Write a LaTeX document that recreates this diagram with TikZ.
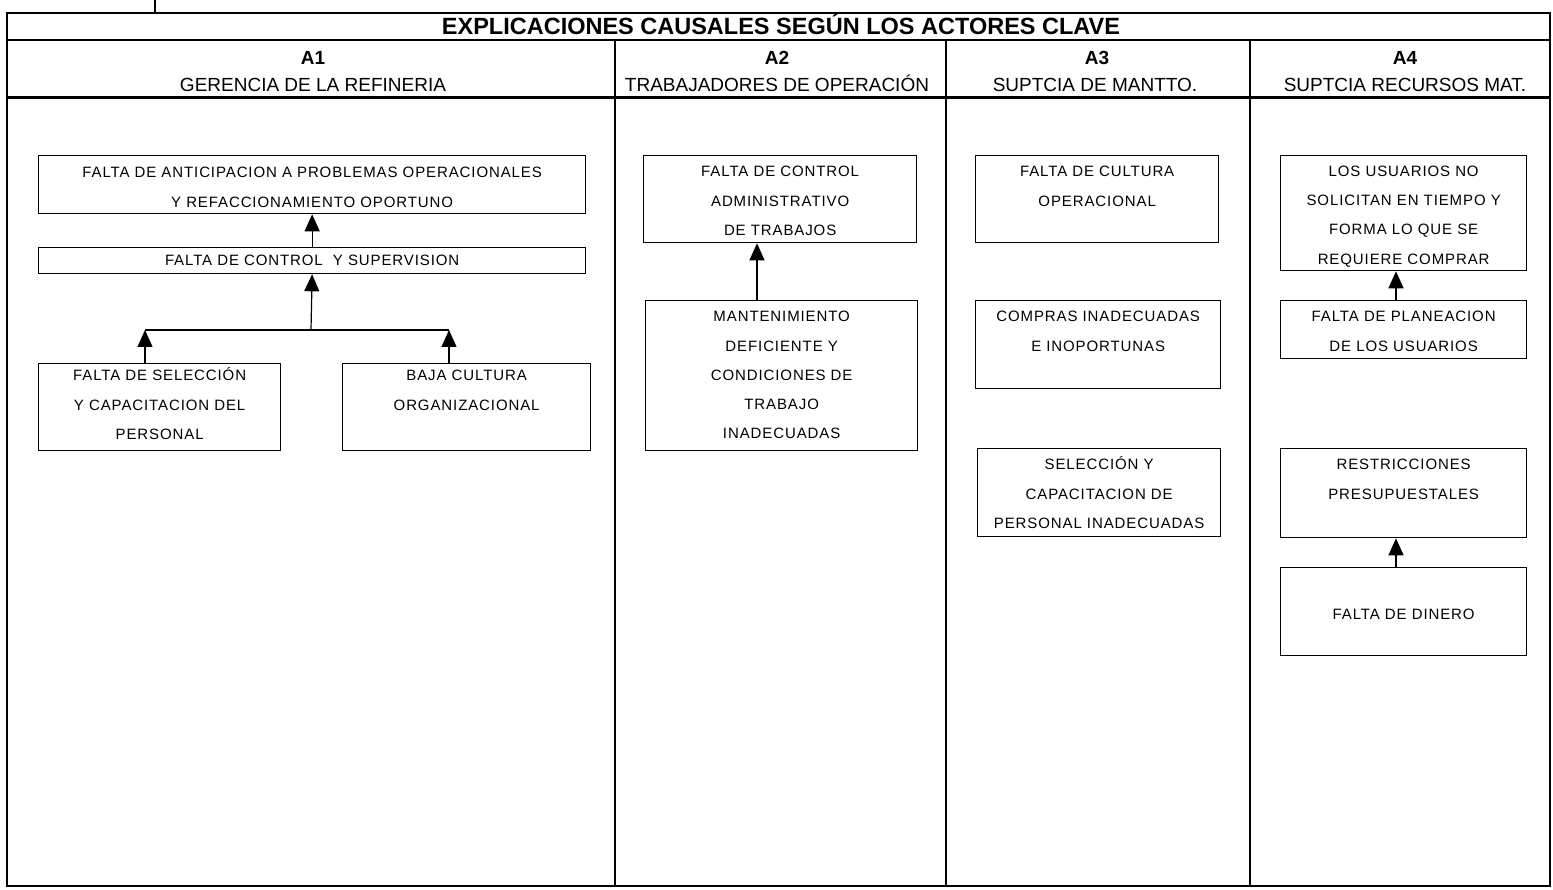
\documentclass[tikz,border=0pt]{standalone}
\usepackage{fontspec}
\setmainfont{Liberation Sans}
\newfontfamily\boxfont[LetterSpace=6]{Liberation Sans}
\usetikzlibrary{arrows.meta,calc}
\newcommand{\fl}{\vphantom{ÓÁ}}
\begin{document}
\begin{tikzpicture}[x=1pt,y=-1pt,
  frame/.style={line width=2.4pt},
  cbox/.style={draw, line width=1.3pt, inner sep=0pt, anchor=north west},
  ctext/.style={font=\boxfont\fontsize{15}{29.3}\selectfont, align=center, inner sep=0pt, anchor=north},
  cause/.style={line width=1.2pt, -{Triangle[width=15pt,length=17pt]}},
  plain/.style={line width=1.2pt},
  titlefont/.style={font=\bfseries\fontsize{23.5}{23.5}\selectfont, anchor=base, inner sep=0pt},
  afont/.style={font=\bfseries\fontsize{19}{19}\selectfont, anchor=base, inner sep=0pt},
  hfont/.style={font=\fontsize{19}{19}\selectfont, anchor=base, inner sep=0pt},
]
\useasboundingbox (0,0) rectangle (1553,890);

% frame
\draw[frame] (7,13) rectangle (1550,886);
\draw[line width=1.2pt] (155,0) -- (155,13);
\draw[frame] (7,40) -- (1550,40);
\draw[line width=3pt] (7,98) -- (1550,98);
\draw[frame] (615,40) -- (615,886);
\draw[frame] (946,40) -- (946,886);
\draw[frame] (1250,40) -- (1250,886);

% title and headers
\node[titlefont] (title) at (781,35) {EXPLICACIONES CAUSALES SEGÚN LOS ACTORES CLAVE};
\node[afont] (a1) at (313,65) {A1};
\node[hfont] (h1) at (313,92) {GERENCIA DE LA REFINERIA};
\node[afont] (a2) at (777,65) {A2};
\node[hfont] (h2) at (777,92) {TRABAJADORES DE OPERACIÓN};
\node[afont] (a3) at (1097,65) {A3};
\node[hfont] (h3) at (1095,92) {SUPTCIA DE MANTTO.};
\node[afont] (a4) at (1405,65) {A4};
\node[hfont] (h4) at (1405,92) {SUPTCIA RECURSOS MAT.};

% column 1
\node[cbox, minimum width=547pt, minimum height=58pt] (b11) at (38,155) {};
\node[ctext] (t11) at ([yshift=-9.5pt]b11.north) {\fl FALTA DE ANTICIPACION A PROBLEMAS OPERACIONALES\\Y REFACCIONAMIENTO OPORTUNO};
\node[cbox, minimum width=547pt, minimum height=26pt] (b12) at (38,247) {};
\node[ctext, anchor=center] (t12) at (b12.center) {FALTA DE CONTROL\ \ Y SUPERVISION};
\node[cbox, minimum width=242pt, minimum height=87pt] (b13) at (38,363) {};
\node[ctext] (t13) at ([yshift=-4.5pt]b13.north) {\fl FALTA DE SELECCIÓN\\Y CAPACITACION DEL\\PERSONAL};
\node[cbox, minimum width=248pt, minimum height=87pt] (b14) at (342,363) {};
\node[ctext] (t14) at ([yshift=-4.5pt]b14.north) {\fl BAJA CULTURA\\ORGANIZACIONAL};

\coordinate (j) at (311,330);
\coordinate (jl) at (145,330);
\coordinate (jr) at (449,330);
\draw[cause] (b12.north) -- (b11.south);
\draw[cause] (j) -- (b12.south);
\draw[plain] (jl) -- (jr);
\draw[cause] (b13.north -| jl) -- (jl);
\draw[cause] (b14.north -| jr) -- (jr);

% column 2
\node[cbox, minimum width=273pt, minimum height=87pt] (b21) at (643,155) {};
\node[ctext] (t21) at ([yshift=-8.5pt]b21.north) {\fl FALTA DE CONTROL\\ADMINISTRATIVO\\DE TRABAJOS};
\node[cbox, minimum width=272pt, minimum height=150pt] (b22) at (645,300) {};
\node[ctext] (t22) at ([yshift=-8.5pt]b22.north) {\fl MANTENIMIENTO\\DEFICIENTE Y\\CONDICIONES DE\\TRABAJO\\INADECUADAS};
\coordinate (x2) at (757,0);
\draw[cause] (b22.north -| x2) -- (b21.south -| x2);

% column 3
\node[cbox, minimum width=243pt, minimum height=87pt] (b31) at (975,155) {};
\node[ctext] (t31) at ([yshift=-8.5pt]b31.north) {\fl FALTA DE CULTURA\\OPERACIONAL};
\node[cbox, minimum width=245pt, minimum height=88pt] (b32) at (975,300) {};
\node[ctext] (t32) at ([yshift=-8.5pt]b32.north) {\fl COMPRAS INADECUADAS\\E INOPORTUNAS};
\node[cbox, minimum width=243pt, minimum height=88pt] (b33) at (977,448) {};
\node[ctext] (t33) at ([yshift=-8.5pt]b33.north) {\fl SELECCIÓN Y\\CAPACITACION DE\\PERSONAL INADECUADAS};

% column 4
\node[cbox, minimum width=246pt, minimum height=115pt] (b41) at (1280,155) {};
\node[ctext] (t41) at ([yshift=-8pt]b41.north) {\fl LOS USUARIOS NO\\SOLICITAN EN TIEMPO Y\\FORMA LO QUE SE\\REQUIERE COMPRAR};
\node[cbox, minimum width=246pt, minimum height=58pt] (b42) at (1280,300) {};
\node[ctext] (t42) at ([yshift=-8.5pt]b42.north) {\fl FALTA DE PLANEACION\\DE LOS USUARIOS};
\node[cbox, minimum width=246pt, minimum height=89pt] (b43) at (1280,448) {};
\node[ctext] (t43) at ([yshift=-8.5pt]b43.north) {\fl RESTRICCIONES\\PRESUPUESTALES};
\node[cbox, minimum width=246pt, minimum height=88pt] (b44) at (1280,567) {};
\node[ctext, anchor=center] (t44) at ([yshift=-3pt]b44.center) {FALTA DE DINERO};
\coordinate (x4) at (1396,0);
\draw[cause] (b42.north -| x4) -- (b41.south -| x4);
\draw[cause] (b44.north -| x4) -- (b43.south -| x4);

\end{tikzpicture}
\end{document}
